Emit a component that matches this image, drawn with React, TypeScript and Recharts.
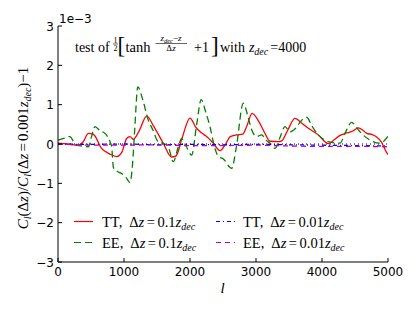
import React from 'react';
import { LineChart, Line, XAxis, YAxis, ReferenceLine, Legend } from 'recharts';

// ---- data (y values in units of 1e-3) ----
const xTicks = [0, 1000, 2000, 3000, 4000, 5000];
const yTicks = [-3, -2, -1, 0, 1, 2, 3];
const yTickLabels = ['\u22123', '\u22122', '\u22121', '0', '1', '2', '3'];

const ttWideL = [0, 150, 300, 380, 460, 540, 660, 780, 890, 970, 1040, 1090, 1140, 1220, 1345, 1450, 1595, 1720, 1790, 1880, 2000, 2090, 2177, 2260, 2353, 2455, 2540, 2606, 2707, 2800, 2860, 2940, 3050, 3136, 3212, 3333, 3390, 3480, 3590, 3700, 3793, 3945, 4095, 4180, 4273, 4370, 4470, 4550, 4620, 4677, 4760, 4828, 4900, 4980, 5000];
const ttWideV = [0.02, 0.0, -0.03, 0.05, 0.27, 0.24, -0.11, -0.25, -0.32, -0.2, 0.14, 0.19, 0.12, 0.3, 0.71, 0.45, 0.02, -0.33, -0.3, 0.15, 0.66, 0.42, 0.28, 0.18, 0.02, -0.17, 0.0, 0.18, 0.23, 0.25, 0.45, 0.78, 0.55, 0.27, 0.07, 0.06, 0.08, 0.35, 0.65, 0.52, 0.4, 0.23, 0.01, 0.1, 0.22, 0.28, 0.33, 0.41, 0.35, 0.27, 0.24, 0.18, 0.05, -0.22, -0.27];

const eeWideL = [0, 100, 180, 240, 280, 360, 460, 510, 560, 640, 712, 790, 813, 840, 900, 965, 1030, 1090, 1130, 1160, 1210, 1280, 1368, 1440, 1520, 1620, 1671, 1747, 1823, 1874, 1940, 2025, 2100, 2170, 2240, 2303, 2360, 2430, 2505, 2631, 2700, 2808, 2870, 2934, 3010, 3086, 3150, 3212, 3288, 3360, 3439, 3515, 3600, 3690, 3768, 3850, 3945, 4095, 4273, 4348, 4450, 4510, 4576, 4727, 4880, 5000];
const eeWideV = [0.1, 0.15, 0.19, 0.05, -0.03, -0.05, -0.07, 0.2, 0.44, 0.33, 0.27, 0.05, -0.07, -0.6, -0.7, -0.75, -0.85, -0.98, -0.5, 0.3, 1.45, 1.15, 0.61, 0.35, 0.05, 0.0, -0.07, -0.45, -0.07, 0.14, -0.05, -0.28, 0.48, 1.13, 0.8, 0.44, 0.0, -0.32, -0.38, -0.62, -0.1, 1.04, 0.75, 0.36, 0.19, 0.23, 0.1, 0.02, -0.11, 0.15, 0.44, 0.31, 0.4, 0.6, 0.68, 0.45, 0.23, 0.06, 0.02, 0.27, 0.55, 0.45, 0.31, 0.1, 0.02, 0.2];

const ttNarrowL = [0, 500, 1000, 1500, 2000, 2500, 3000, 3500, 4000, 4500, 5000];
const ttNarrowV = [0.0, -0.01, 0.0, -0.02, -0.01, -0.02, -0.01, -0.02, -0.03, -0.04, -0.05];

const eeNarrowL = [0, 500, 1000, 1500, 2000, 2500, 3000, 3500, 4000, 4500, 5000];
const eeNarrowV = [0.0, -0.03, -0.03, -0.02, -0.04, -0.04, -0.03, -0.05, -0.06, -0.06, -0.07];

const seriesNames = ['TT', 'EE', 'TT', 'EE'];
const seriesDz = ['0.1', '0.1', '0.01', '0.01'];
const seriesColors = ['#ff0000', '#008000', '#0000ff', '#bf00bf'];
const seriesDash = ['', '7 4', '4 3 1 3', '5 4'];

const zip = (ls: number[], vs: number[]) => ls.map((l, i) => ({ l, v: vs[i] }));
const seriesData = [zip(ttWideL, ttWideV), zip(eeWideL, eeWideV), zip(ttNarrowL, ttNarrowV), zip(eeNarrowL, eeNarrowV)];

const W = 417;
const H = 313;
const SERIF = '"Liberation Serif", "DejaVu Serif", serif';
const SANS = '"DejaVu Sans", sans-serif';

const BottomTick = (p: any) => (
  <g>
    <line x1={p.x} x2={p.x} y1={p.y} y2={p.y - 4} stroke="#000" strokeWidth={1} />
    <text x={p.x} y={p.y + 14} textAnchor="middle" fontFamily={SANS} fontSize={12} fill="#000">{p.payload.value}</text>
  </g>
);
const TopTick = (p: any) => (
  <line x1={p.x} x2={p.x} y1={p.y} y2={p.y + 4} stroke="#000" strokeWidth={1} />
);
const LeftTick = (p: any) => (
  <g>
    <line x1={p.x} x2={p.x + 4} y1={p.y} y2={p.y} stroke="#000" strokeWidth={1} />
    <text x={p.x - 4} y={p.y + 4.5} textAnchor="end" fontFamily={SANS} fontSize={12} fill="#000">
      {yTickLabels[yTicks.indexOf(p.payload.value)]}
    </text>
  </g>
);
const RightTick = (p: any) => (
  <line x1={p.x} x2={p.x - 4} y1={p.y} y2={p.y} stroke="#000" strokeWidth={1} />
);

const LegendContent = () => {
  const colX = [74, 216];
  const textX = [102, 243];
  const rowY = [226.5, 247.5];
  return (
    <svg width={W} height={H} style={{ position: 'absolute', left: 0, top: 0, overflow: 'visible' }}>
      {seriesNames.map((name, i) => {
        const c = i < 2 ? 0 : 1;
        const r = i % 2;
        return (
          <g key={i}>
            <line x1={colX[c]} x2={colX[c] + 19} y1={rowY[r] - 5} y2={rowY[r] - 5} stroke={seriesColors[i]} strokeWidth={1.2} strokeDasharray={seriesDash[i] || undefined} />
            <text x={textX[c]} y={rowY[r]} fontFamily={SERIF} fontSize={14.5} fill="#000">
              {name},
              <tspan dx={7}>{'\u0394'}</tspan>
              <tspan fontStyle="italic">z</tspan>
              <tspan dx={2.5}>=</tspan>
              <tspan dx={2.5}>{seriesDz[i]}</tspan>
              <tspan fontStyle="italic">z</tspan>
              <tspan fontStyle="italic" fontSize={10} dy={3}>dec</tspan>
            </text>
          </g>
        );
      })}
    </svg>
  );
};

const Overlay = () => (
  <svg width={W} height={H} style={{ position: 'absolute', left: 0, top: 0, pointerEvents: 'none' }}>
    {/* offset text */}
    <text x={59} y={23} fontFamily={SANS} fontSize={12} fill="#000">1e{'\u2212'}3</text>
    {/* annotation */}
    <text x={75} y={52} fontFamily={SERIF} fontSize={14} fill="#000">test of</text>
    <text x={115.5} y={42.5} fontFamily={SERIF} fontSize={8} textAnchor="middle" fill="#000">1</text>
    <line x1={113} x2={118} y1={44} y2={44} stroke="#000" strokeWidth={0.6} />
    <text x={115.5} y={50.5} fontFamily={SERIF} fontSize={8} textAnchor="middle" fill="#000">2</text>
    <text x={117.5} y={53} fontFamily={SERIF} fontSize={23} fill="#000">[</text>
    <text x={125.5} y={52} fontFamily={SERIF} fontSize={14.5} fill="#000">tanh</text>
    <text x={171} y={41} fontFamily={SERIF} fontSize={9} textAnchor="middle" fill="#000">
      <tspan fontStyle="italic">z</tspan>
      <tspan fontStyle="italic" fontSize={6.5} dy={2}>dec</tspan>
      <tspan dy={-2}>{'\u2212'}</tspan>
      <tspan fontStyle="italic">z</tspan>
    </text>
    <line x1={155.5} x2={187} y1={43.5} y2={43.5} stroke="#000" strokeWidth={0.6} />
    <text x={171} y={51} fontFamily={SERIF} fontSize={9} textAnchor="middle" fill="#000">
      {'\u0394'}<tspan fontStyle="italic">z</tspan>
    </text>
    <text x={194} y={52} fontFamily={SERIF} fontSize={14} fill="#000">+1</text>
    <text x={211} y={53} fontFamily={SERIF} fontSize={23} fill="#000">]</text>
    <text x={220} y={52} fontFamily={SERIF} fontSize={14} fill="#000">
      with
      <tspan dx={4} fontStyle="italic">z</tspan>
      <tspan fontStyle="italic" fontSize={10} dy={3}>dec</tspan>
      <tspan dy={-3} dx={2}>=4000</tspan>
    </text>
    {/* y label */}
    <text transform="translate(28,148) rotate(-90)" textAnchor="middle" fontFamily={SERIF} fontSize={15} fill="#000">
      <tspan fontStyle="italic">C</tspan>
      <tspan fontStyle="italic" fontSize={10} dy={3}>l</tspan>
      <tspan dy={-3}>({'\u0394'}</tspan>
      <tspan fontStyle="italic">z</tspan>
      <tspan>)/</tspan>
      <tspan fontStyle="italic">C</tspan>
      <tspan fontStyle="italic" fontSize={10} dy={3}>l</tspan>
      <tspan dy={-3}>({'\u0394'}</tspan>
      <tspan fontStyle="italic">z</tspan>
      <tspan dx={2}>=</tspan>
      <tspan dx={2}>0.001</tspan>
      <tspan fontStyle="italic">z</tspan>
      <tspan fontStyle="italic" fontSize={10} dy={3}>dec</tspan>
      <tspan dy={-3}>)</tspan>
      <tspan>{'\u2212'}1</tspan>
    </text>
    {/* x label */}
    <text x={222.5} y={293} textAnchor="middle" fontFamily={SERIF} fontStyle="italic" fontSize={15} fill="#000">l</text>
  </svg>
);

export default function App() {
  return (
    <div style={{ position: 'absolute', left: 0, top: 0, width: W, height: H, background: '#fff' }}>
      <LineChart width={W} height={H} margin={{ top: 26, right: 29, bottom: 21, left: 18 }}>
        <XAxis dataKey="l" type="number" domain={[0, 5000]} ticks={xTicks} interval={0} height={30}
          axisLine={{ stroke: '#000', strokeWidth: 1 }} tickLine={false} tickSize={0} tickMargin={0} tick={BottomTick} allowDataOverflow />
        <XAxis xAxisId="top" orientation="top" dataKey="l" type="number" domain={[0, 5000]} ticks={xTicks} interval={0} height={0}
          axisLine={{ stroke: '#000', strokeWidth: 1 }} tickLine={false} tickSize={0} tickMargin={0} tick={TopTick} allowDataOverflow />
        <YAxis type="number" domain={[-3, 3]} ticks={yTicks} interval={0} width={40}
          axisLine={{ stroke: '#000', strokeWidth: 1 }} tickLine={false} tickSize={0} tickMargin={0} tick={LeftTick} allowDataOverflow />
        <YAxis yAxisId="right" orientation="right" type="number" domain={[-3, 3]} ticks={yTicks} interval={0} width={0}
          axisLine={{ stroke: '#000', strokeWidth: 1 }} tickLine={false} tickSize={0} tickMargin={0} tick={RightTick} allowDataOverflow />
        <ReferenceLine y={0} stroke="#000" strokeWidth={1} strokeDasharray="1 3" />
        {seriesData.map((d, i) => (
          <Line key={i} data={d} dataKey="v" type="monotone" stroke={seriesColors[i]} strokeWidth={1.3}
            strokeDasharray={seriesDash[i] || undefined} dot={false} activeDot={false} isAnimationActive={false} />
        ))}
        <Legend content={LegendContent} verticalAlign="middle" align="center" layout="horizontal"
          wrapperStyle={{ left: 0, top: 0, width: W, height: H, pointerEvents: 'none' }} />
      </LineChart>
      <Overlay />
    </div>
  );
}
